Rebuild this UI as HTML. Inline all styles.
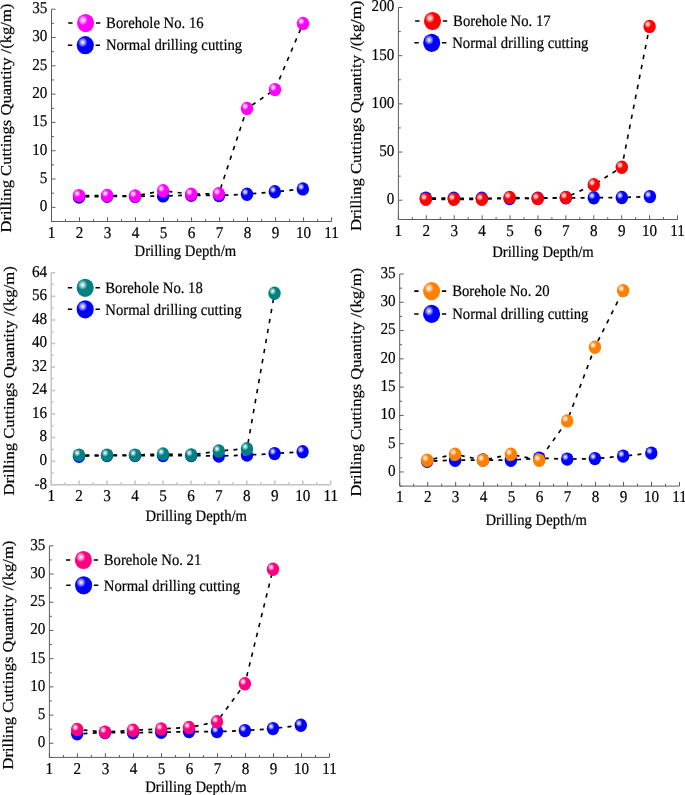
<!DOCTYPE html>
<html><head><meta charset="utf-8"><style>
html,body{margin:0;padding:0;background:#fff;}
svg{display:block;will-change:transform;}
text{font-family:"Liberation Serif", serif;text-rendering:geometricPrecision;stroke:#000;stroke-width:0.2px;}
</style></head><body>
<svg width="685" height="795" viewBox="0 0 685 795">
<defs><radialGradient id="gm" cx="0.35" cy="0.34" r="0.5" fx="0.35" fy="0.34"><stop offset="0" stop-color="#ffffff"/><stop offset="0.12" stop-color="#ffd1ff"/><stop offset="0.3" stop-color="#ff85ff"/><stop offset="0.45" stop-color="#ff38ff"/><stop offset="0.56" stop-color="#ff00ff"/><stop offset="1" stop-color="#ff00ff"/></radialGradient><radialGradient id="gr" cx="0.35" cy="0.34" r="0.5" fx="0.35" fy="0.34"><stop offset="0" stop-color="#ffffff"/><stop offset="0.12" stop-color="#ffd1d1"/><stop offset="0.3" stop-color="#ff8585"/><stop offset="0.45" stop-color="#ff3838"/><stop offset="0.56" stop-color="#ff0000"/><stop offset="1" stop-color="#ff0000"/></radialGradient><radialGradient id="gt" cx="0.35" cy="0.34" r="0.5" fx="0.35" fy="0.34"><stop offset="0" stop-color="#ffffff"/><stop offset="0.12" stop-color="#d1e8e8"/><stop offset="0.3" stop-color="#85c2c2"/><stop offset="0.45" stop-color="#389c9c"/><stop offset="0.56" stop-color="#008080"/><stop offset="1" stop-color="#008080"/></radialGradient><radialGradient id="go" cx="0.35" cy="0.34" r="0.5" fx="0.35" fy="0.34"><stop offset="0" stop-color="#ffffff"/><stop offset="0.12" stop-color="#ffe8d1"/><stop offset="0.3" stop-color="#ffc285"/><stop offset="0.45" stop-color="#ff9c38"/><stop offset="0.56" stop-color="#ff8000"/><stop offset="1" stop-color="#ff8000"/></radialGradient><radialGradient id="gp" cx="0.35" cy="0.34" r="0.5" fx="0.35" fy="0.34"><stop offset="0" stop-color="#ffffff"/><stop offset="0.12" stop-color="#ffd1e8"/><stop offset="0.3" stop-color="#ff85c2"/><stop offset="0.45" stop-color="#ff389c"/><stop offset="0.56" stop-color="#ff0080"/><stop offset="1" stop-color="#ff0080"/></radialGradient><radialGradient id="gb" cx="0.35" cy="0.34" r="0.5" fx="0.35" fy="0.34"><stop offset="0" stop-color="#ffffff"/><stop offset="0.12" stop-color="#d1d1ff"/><stop offset="0.3" stop-color="#8585ff"/><stop offset="0.45" stop-color="#3838ff"/><stop offset="0.56" stop-color="#0000ff"/><stop offset="1" stop-color="#0000ff"/></radialGradient></defs>
<rect width="685" height="795" fill="#fff"/>
<path d="M51.5,9.2 V221.5 H331.6" fill="none" stroke="#5c5c5c" stroke-width="1"/>
<path d="M51.50,221.5 v-4.2 M65.50,221.5 v-2.4 M79.51,221.5 v-4.2 M93.52,221.5 v-2.4 M107.52,221.5 v-4.2 M121.53,221.5 v-2.4 M135.53,221.5 v-4.2 M149.54,221.5 v-2.4 M163.54,221.5 v-4.2 M177.55,221.5 v-2.4 M191.55,221.5 v-4.2 M205.56,221.5 v-2.4 M219.56,221.5 v-4.2 M233.56,221.5 v-2.4 M247.57,221.5 v-4.2 M261.57,221.5 v-2.4 M275.58,221.5 v-4.2 M289.59,221.5 v-2.4 M303.59,221.5 v-4.2 M317.60,221.5 v-2.4 M331.60,221.5 v-4.2 M51.5,221.50 h2.4 M51.5,207.35 h4 M51.5,193.19 h2.4 M51.5,179.04 h4 M51.5,164.89 h2.4 M51.5,150.73 h4 M51.5,136.58 h2.4 M51.5,122.43 h4 M51.5,108.27 h2.4 M51.5,94.12 h4 M51.5,79.97 h2.4 M51.5,65.81 h4 M51.5,51.66 h2.4 M51.5,37.51 h4 M51.5,23.35 h2.4 M51.5,9.20 h4" fill="none" stroke="#5c5c5c" stroke-width="1"/>
<text transform="translate(51.50,237.80) scale(0.918,1)" text-anchor="middle" font-size="16.5" fill="#000">1</text>
<text transform="translate(79.51,237.80) scale(0.918,1)" text-anchor="middle" font-size="16.5" fill="#000">2</text>
<text transform="translate(107.52,237.80) scale(0.918,1)" text-anchor="middle" font-size="16.5" fill="#000">3</text>
<text transform="translate(135.53,237.80) scale(0.918,1)" text-anchor="middle" font-size="16.5" fill="#000">4</text>
<text transform="translate(163.54,237.80) scale(0.918,1)" text-anchor="middle" font-size="16.5" fill="#000">5</text>
<text transform="translate(191.55,237.80) scale(0.918,1)" text-anchor="middle" font-size="16.5" fill="#000">6</text>
<text transform="translate(219.56,237.80) scale(0.918,1)" text-anchor="middle" font-size="16.5" fill="#000">7</text>
<text transform="translate(247.57,237.80) scale(0.918,1)" text-anchor="middle" font-size="16.5" fill="#000">8</text>
<text transform="translate(275.58,237.80) scale(0.918,1)" text-anchor="middle" font-size="16.5" fill="#000">9</text>
<text transform="translate(303.59,237.80) scale(0.918,1)" text-anchor="middle" font-size="16.5" fill="#000">10</text>
<text transform="translate(331.60,237.80) scale(0.918,1)" text-anchor="middle" font-size="16.5" fill="#000">11</text>
<text transform="translate(47.40,211.20) scale(0.918,1)" text-anchor="end" font-size="16.5" fill="#000">0</text>
<text transform="translate(47.40,182.89) scale(0.918,1)" text-anchor="end" font-size="16.5" fill="#000">5</text>
<text transform="translate(47.40,154.58) scale(0.918,1)" text-anchor="end" font-size="16.5" fill="#000">10</text>
<text transform="translate(47.40,126.28) scale(0.918,1)" text-anchor="end" font-size="16.5" fill="#000">15</text>
<text transform="translate(47.40,97.97) scale(0.918,1)" text-anchor="end" font-size="16.5" fill="#000">20</text>
<text transform="translate(47.40,69.66) scale(0.918,1)" text-anchor="end" font-size="16.5" fill="#000">25</text>
<text transform="translate(47.40,41.36) scale(0.918,1)" text-anchor="end" font-size="16.5" fill="#000">30</text>
<text transform="translate(47.40,13.05) scale(0.918,1)" text-anchor="end" font-size="16.5" fill="#000">35</text>
<text transform="translate(134.60,255.80) scale(0.918,1)" text-anchor="start" font-size="16" fill="#000">Drilling Depth/m</text>
<text transform="translate(10.90,232.50) scale(0.95,1) rotate(-90)" font-size="16" textLength="228.8" lengthAdjust="spacingAndGlyphs">Drilling Cuttings Quantity /(kg/m)</text>
<path transform="scale(0.91,1)" d="M86.81,197.00 L117.69,196.30 L148.46,196.40 L179.23,195.90 L210.11,195.20 L240.66,195.50 L271.43,194.20 L301.98,191.80 L332.80,188.90" fill="none" stroke="#000" stroke-width="1.75" stroke-dasharray="4.4,5.8" stroke-dashoffset="3.3"/>
<path transform="scale(0.91,1)" d="M86.81,195.60 L117.69,195.50 L148.46,196.00 L179.23,190.70 L210.11,194.20 L240.44,193.80 L271.43,108.40 L302.20,89.60 L332.97,23.40" fill="none" stroke="#000" stroke-width="1.75" stroke-dasharray="4.4,5.8" stroke-dashoffset="3.3"/>
<ellipse cx="79.00" cy="197.00" rx="6.2" ry="6.7" fill="url(#gb)"/>
<ellipse cx="107.10" cy="196.30" rx="6.2" ry="6.7" fill="url(#gb)"/>
<ellipse cx="135.10" cy="196.40" rx="6.2" ry="6.7" fill="url(#gb)"/>
<ellipse cx="163.10" cy="195.90" rx="6.2" ry="6.7" fill="url(#gb)"/>
<ellipse cx="191.20" cy="195.20" rx="6.2" ry="6.7" fill="url(#gb)"/>
<ellipse cx="219.00" cy="195.50" rx="6.2" ry="6.7" fill="url(#gb)"/>
<ellipse cx="247.00" cy="194.20" rx="6.2" ry="6.7" fill="url(#gb)"/>
<ellipse cx="274.80" cy="191.80" rx="6.2" ry="6.7" fill="url(#gb)"/>
<ellipse cx="302.85" cy="188.90" rx="6.2" ry="6.7" fill="url(#gb)"/>
<ellipse cx="79.00" cy="195.60" rx="6.2" ry="6.7" fill="url(#gm)"/>
<ellipse cx="107.10" cy="195.50" rx="6.2" ry="6.7" fill="url(#gm)"/>
<ellipse cx="135.10" cy="196.00" rx="6.2" ry="6.7" fill="url(#gm)"/>
<ellipse cx="163.10" cy="190.70" rx="6.2" ry="6.7" fill="url(#gm)"/>
<ellipse cx="191.20" cy="194.20" rx="6.2" ry="6.7" fill="url(#gm)"/>
<ellipse cx="218.80" cy="193.80" rx="6.2" ry="6.7" fill="url(#gm)"/>
<ellipse cx="247.00" cy="108.40" rx="6.2" ry="6.7" fill="url(#gm)"/>
<ellipse cx="275.00" cy="89.60" rx="6.2" ry="6.7" fill="url(#gm)"/>
<ellipse cx="303.00" cy="23.40" rx="6.2" ry="6.7" fill="url(#gm)"/>
<path d="M68.20,23.05 h4.4 M95.90,23.05 h4.4" stroke="#000" stroke-width="1.55"/>
<ellipse cx="85.60" cy="23.05" rx="8.55" ry="9.1" fill="url(#gm)"/>
<text transform="translate(106.10,28.20) scale(0.918,1)" text-anchor="start" font-size="16" fill="#000">Borehole No. 16</text>
<path d="M67.90,45.20 h4.4 M95.60,45.20 h4.4" stroke="#000" stroke-width="1.55"/>
<ellipse cx="85.30" cy="45.20" rx="8.55" ry="9.1" fill="url(#gb)"/>
<text transform="translate(105.90,50.40) scale(0.918,1)" text-anchor="start" font-size="16" fill="#000">Normal drilling cutting</text>
<path d="M398.4,7.5 V219.5 H677.5" fill="none" stroke="#5c5c5c" stroke-width="1"/>
<path d="M398.40,219.5 v-4.2 M412.35,219.5 v-2.4 M426.31,219.5 v-4.2 M440.26,219.5 v-2.4 M454.22,219.5 v-4.2 M468.17,219.5 v-2.4 M482.13,219.5 v-4.2 M496.08,219.5 v-2.4 M510.04,219.5 v-4.2 M524.00,219.5 v-2.4 M537.95,219.5 v-4.2 M551.90,219.5 v-2.4 M565.86,219.5 v-4.2 M579.82,219.5 v-2.4 M593.77,219.5 v-4.2 M607.72,219.5 v-2.4 M621.68,219.5 v-4.2 M635.63,219.5 v-2.4 M649.59,219.5 v-4.2 M663.55,219.5 v-2.4 M677.50,219.5 v-4.2 M398.4,200.23 h4 M398.4,176.14 h2.4 M398.4,152.05 h4 M398.4,127.95 h2.4 M398.4,103.86 h4 M398.4,79.77 h2.4 M398.4,55.68 h4 M398.4,31.59 h2.4 M398.4,7.50 h4" fill="none" stroke="#5c5c5c" stroke-width="1"/>
<text transform="translate(398.40,235.80) scale(0.918,1)" text-anchor="middle" font-size="16.5" fill="#000">1</text>
<text transform="translate(426.31,235.80) scale(0.918,1)" text-anchor="middle" font-size="16.5" fill="#000">2</text>
<text transform="translate(454.22,235.80) scale(0.918,1)" text-anchor="middle" font-size="16.5" fill="#000">3</text>
<text transform="translate(482.13,235.80) scale(0.918,1)" text-anchor="middle" font-size="16.5" fill="#000">4</text>
<text transform="translate(510.04,235.80) scale(0.918,1)" text-anchor="middle" font-size="16.5" fill="#000">5</text>
<text transform="translate(537.95,235.80) scale(0.918,1)" text-anchor="middle" font-size="16.5" fill="#000">6</text>
<text transform="translate(565.86,235.80) scale(0.918,1)" text-anchor="middle" font-size="16.5" fill="#000">7</text>
<text transform="translate(593.77,235.80) scale(0.918,1)" text-anchor="middle" font-size="16.5" fill="#000">8</text>
<text transform="translate(621.68,235.80) scale(0.918,1)" text-anchor="middle" font-size="16.5" fill="#000">9</text>
<text transform="translate(649.59,235.80) scale(0.918,1)" text-anchor="middle" font-size="16.5" fill="#000">10</text>
<text transform="translate(677.50,235.80) scale(0.918,1)" text-anchor="middle" font-size="16.5" fill="#000">11</text>
<text transform="translate(394.30,204.08) scale(0.918,1)" text-anchor="end" font-size="16.5" fill="#000">0</text>
<text transform="translate(394.30,155.90) scale(0.918,1)" text-anchor="end" font-size="16.5" fill="#000">50</text>
<text transform="translate(394.30,107.71) scale(0.918,1)" text-anchor="end" font-size="16.5" fill="#000">100</text>
<text transform="translate(394.30,59.53) scale(0.918,1)" text-anchor="end" font-size="16.5" fill="#000">150</text>
<text transform="translate(394.30,11.35) scale(0.918,1)" text-anchor="end" font-size="16.5" fill="#000">200</text>
<text transform="translate(492.20,256.50) scale(0.918,1)" text-anchor="start" font-size="16" fill="#000">Drilling Depth/m</text>
<text transform="translate(360.80,231.00) scale(0.95,1) rotate(-90)" font-size="16" textLength="230.20000000000002" lengthAdjust="spacingAndGlyphs">Drilling Cuttings Quantity /(kg/m)</text>
<path transform="scale(0.91,1)" d="M467.91,198.10 L498.68,198.30 L529.45,198.30 L560.00,198.60 L590.88,198.20 L621.76,197.80 L652.53,197.80 L683.30,197.50 L714.18,196.60" fill="none" stroke="#000" stroke-width="1.75" stroke-dasharray="4.4,5.8" stroke-dashoffset="3.3"/>
<path transform="scale(0.91,1)" d="M467.91,199.20 L498.68,199.30 L529.45,199.30 L560.00,197.50 L590.88,198.60 L621.76,197.50 L652.53,184.70 L683.30,167.20 L713.85,26.40" fill="none" stroke="#000" stroke-width="1.75" stroke-dasharray="4.4,5.8" stroke-dashoffset="3.3"/>
<ellipse cx="425.80" cy="198.10" rx="6.2" ry="6.7" fill="url(#gb)"/>
<ellipse cx="453.80" cy="198.30" rx="6.2" ry="6.7" fill="url(#gb)"/>
<ellipse cx="481.80" cy="198.30" rx="6.2" ry="6.7" fill="url(#gb)"/>
<ellipse cx="509.60" cy="198.60" rx="6.2" ry="6.7" fill="url(#gb)"/>
<ellipse cx="537.70" cy="198.20" rx="6.2" ry="6.7" fill="url(#gb)"/>
<ellipse cx="565.80" cy="197.80" rx="6.2" ry="6.7" fill="url(#gb)"/>
<ellipse cx="593.80" cy="197.80" rx="6.2" ry="6.7" fill="url(#gb)"/>
<ellipse cx="621.80" cy="197.50" rx="6.2" ry="6.7" fill="url(#gb)"/>
<ellipse cx="649.90" cy="196.60" rx="6.2" ry="6.7" fill="url(#gb)"/>
<ellipse cx="425.80" cy="199.20" rx="6.2" ry="6.7" fill="url(#gr)"/>
<ellipse cx="453.80" cy="199.30" rx="6.2" ry="6.7" fill="url(#gr)"/>
<ellipse cx="481.80" cy="199.30" rx="6.2" ry="6.7" fill="url(#gr)"/>
<ellipse cx="509.60" cy="197.50" rx="6.2" ry="6.7" fill="url(#gr)"/>
<ellipse cx="537.70" cy="198.60" rx="6.2" ry="6.7" fill="url(#gr)"/>
<ellipse cx="565.80" cy="197.50" rx="6.2" ry="6.7" fill="url(#gr)"/>
<ellipse cx="593.80" cy="184.70" rx="6.2" ry="6.7" fill="url(#gr)"/>
<ellipse cx="621.80" cy="167.20" rx="6.2" ry="6.7" fill="url(#gr)"/>
<ellipse cx="649.60" cy="26.40" rx="6.2" ry="6.7" fill="url(#gr)"/>
<path d="M415.10,21.00 h4.4 M442.80,21.00 h4.4" stroke="#000" stroke-width="1.55"/>
<ellipse cx="432.50" cy="21.00" rx="8.55" ry="9.1" fill="url(#gr)"/>
<text transform="translate(453.10,26.30) scale(0.918,1)" text-anchor="start" font-size="16" fill="#000">Borehole No. 17</text>
<path d="M414.30,42.80 h4.4 M442.00,42.80 h4.4" stroke="#000" stroke-width="1.55"/>
<ellipse cx="431.70" cy="42.80" rx="8.55" ry="9.1" fill="url(#gb)"/>
<text transform="translate(452.20,47.90) scale(0.918,1)" text-anchor="start" font-size="16" fill="#000">Normal drilling cutting</text>
<path d="M51.2,272.8 V484.7 H330.7" fill="none" stroke="#c4c4c4" stroke-width="1.5"/>
<path d="M51.20,484.7 v-4.2 M65.17,484.7 v-2.4 M79.15,484.7 v-4.2 M93.12,484.7 v-2.4 M107.10,484.7 v-4.2 M121.08,484.7 v-2.4 M135.05,484.7 v-4.2 M149.03,484.7 v-2.4 M163.00,484.7 v-4.2 M176.98,484.7 v-2.4 M190.95,484.7 v-4.2 M204.93,484.7 v-2.4 M218.90,484.7 v-4.2 M232.88,484.7 v-2.4 M246.85,484.7 v-4.2 M260.82,484.7 v-2.4 M274.80,484.7 v-4.2 M288.77,484.7 v-2.4 M302.75,484.7 v-4.2 M316.72,484.7 v-2.4 M330.70,484.7 v-4.2 M51.2,484.70 h4 M51.2,472.93 h2.4 M51.2,461.16 h4 M51.2,449.38 h2.4 M51.2,437.61 h4 M51.2,425.84 h2.4 M51.2,414.07 h4 M51.2,402.29 h2.4 M51.2,390.52 h4 M51.2,378.75 h2.4 M51.2,366.98 h4 M51.2,355.21 h2.4 M51.2,343.43 h4 M51.2,331.66 h2.4 M51.2,319.89 h4 M51.2,308.12 h2.4 M51.2,296.34 h4 M51.2,284.57 h2.4 M51.2,272.80 h4" fill="none" stroke="#c4c4c4" stroke-width="1.5"/>
<text transform="translate(51.20,501.00) scale(0.918,1)" text-anchor="middle" font-size="16.5" fill="#000">1</text>
<text transform="translate(79.15,501.00) scale(0.918,1)" text-anchor="middle" font-size="16.5" fill="#000">2</text>
<text transform="translate(107.10,501.00) scale(0.918,1)" text-anchor="middle" font-size="16.5" fill="#000">3</text>
<text transform="translate(135.05,501.00) scale(0.918,1)" text-anchor="middle" font-size="16.5" fill="#000">4</text>
<text transform="translate(163.00,501.00) scale(0.918,1)" text-anchor="middle" font-size="16.5" fill="#000">5</text>
<text transform="translate(190.95,501.00) scale(0.918,1)" text-anchor="middle" font-size="16.5" fill="#000">6</text>
<text transform="translate(218.90,501.00) scale(0.918,1)" text-anchor="middle" font-size="16.5" fill="#000">7</text>
<text transform="translate(246.85,501.00) scale(0.918,1)" text-anchor="middle" font-size="16.5" fill="#000">8</text>
<text transform="translate(274.80,501.00) scale(0.918,1)" text-anchor="middle" font-size="16.5" fill="#000">9</text>
<text transform="translate(302.75,501.00) scale(0.918,1)" text-anchor="middle" font-size="16.5" fill="#000">10</text>
<text transform="translate(330.70,501.00) scale(0.918,1)" text-anchor="middle" font-size="16.5" fill="#000">11</text>
<text transform="translate(47.10,488.55) scale(0.918,1)" text-anchor="end" font-size="16.5" fill="#000">-8</text>
<text transform="translate(47.10,465.01) scale(0.918,1)" text-anchor="end" font-size="16.5" fill="#000">0</text>
<text transform="translate(47.10,441.46) scale(0.918,1)" text-anchor="end" font-size="16.5" fill="#000">8</text>
<text transform="translate(47.10,417.92) scale(0.918,1)" text-anchor="end" font-size="16.5" fill="#000">16</text>
<text transform="translate(47.10,394.37) scale(0.918,1)" text-anchor="end" font-size="16.5" fill="#000">24</text>
<text transform="translate(47.10,370.83) scale(0.918,1)" text-anchor="end" font-size="16.5" fill="#000">32</text>
<text transform="translate(47.10,347.28) scale(0.918,1)" text-anchor="end" font-size="16.5" fill="#000">40</text>
<text transform="translate(47.10,323.74) scale(0.918,1)" text-anchor="end" font-size="16.5" fill="#000">48</text>
<text transform="translate(47.10,300.19) scale(0.918,1)" text-anchor="end" font-size="16.5" fill="#000">56</text>
<text transform="translate(47.10,276.65) scale(0.918,1)" text-anchor="end" font-size="16.5" fill="#000">64</text>
<text transform="translate(145.40,520.70) scale(0.918,1)" text-anchor="start" font-size="16" fill="#000">Drilling Depth/m</text>
<text transform="translate(13.60,495.40) scale(0.95,1) rotate(-90)" font-size="16" textLength="229.1" lengthAdjust="spacingAndGlyphs">Drilling Cuttings Quantity /(kg/m)</text>
<path transform="scale(0.91,1)" d="M86.81,456.20 L117.58,455.60 L148.35,455.60 L179.12,455.50 L210.11,455.50 L240.44,456.10 L271.43,455.00 L301.76,453.60 L332.53,451.80" fill="none" stroke="#000" stroke-width="1.75" stroke-dasharray="4.4,5.8" stroke-dashoffset="3.3"/>
<path transform="scale(0.91,1)" d="M86.81,455.10 L117.58,455.10 L148.35,455.10 L179.12,453.90 L210.11,455.00 L240.44,451.00 L271.43,448.70 L301.65,293.30" fill="none" stroke="#000" stroke-width="1.75" stroke-dasharray="4.4,5.8" stroke-dashoffset="3.3"/>
<ellipse cx="79.00" cy="456.20" rx="6.2" ry="6.7" fill="url(#gb)"/>
<ellipse cx="107.00" cy="455.60" rx="6.2" ry="6.7" fill="url(#gb)"/>
<ellipse cx="135.00" cy="455.60" rx="6.2" ry="6.7" fill="url(#gb)"/>
<ellipse cx="163.00" cy="455.50" rx="6.2" ry="6.7" fill="url(#gb)"/>
<ellipse cx="191.20" cy="455.50" rx="6.2" ry="6.7" fill="url(#gb)"/>
<ellipse cx="218.80" cy="456.10" rx="6.2" ry="6.7" fill="url(#gb)"/>
<ellipse cx="247.00" cy="455.00" rx="6.2" ry="6.7" fill="url(#gb)"/>
<ellipse cx="274.60" cy="453.60" rx="6.2" ry="6.7" fill="url(#gb)"/>
<ellipse cx="302.60" cy="451.80" rx="6.2" ry="6.7" fill="url(#gb)"/>
<ellipse cx="79.00" cy="455.10" rx="6.2" ry="6.7" fill="url(#gt)"/>
<ellipse cx="107.00" cy="455.10" rx="6.2" ry="6.7" fill="url(#gt)"/>
<ellipse cx="135.00" cy="455.10" rx="6.2" ry="6.7" fill="url(#gt)"/>
<ellipse cx="163.00" cy="453.90" rx="6.2" ry="6.7" fill="url(#gt)"/>
<ellipse cx="191.20" cy="455.00" rx="6.2" ry="6.7" fill="url(#gt)"/>
<ellipse cx="218.80" cy="451.00" rx="6.2" ry="6.7" fill="url(#gt)"/>
<ellipse cx="247.00" cy="448.70" rx="6.2" ry="6.7" fill="url(#gt)"/>
<ellipse cx="274.50" cy="293.30" rx="6.2" ry="6.7" fill="url(#gt)"/>
<path d="M67.80,287.80 h4.4 M95.50,287.80 h4.4" stroke="#000" stroke-width="1.55"/>
<ellipse cx="85.20" cy="287.80" rx="8.55" ry="9.1" fill="url(#gt)"/>
<text transform="translate(105.30,293.20) scale(0.918,1)" text-anchor="start" font-size="16" fill="#000">Borehole No. 18</text>
<path d="M67.80,309.30 h4.4 M95.50,309.30 h4.4" stroke="#000" stroke-width="1.55"/>
<ellipse cx="85.20" cy="309.30" rx="8.55" ry="9.1" fill="url(#gb)"/>
<text transform="translate(105.30,314.70) scale(0.918,1)" text-anchor="start" font-size="16" fill="#000">Normal drilling cutting</text>
<path d="M399.7,274.0 V486.1 H679.5" fill="none" stroke="#5c5c5c" stroke-width="1"/>
<path d="M399.70,486.1 v-4.2 M413.69,486.1 v-2.4 M427.68,486.1 v-4.2 M441.67,486.1 v-2.4 M455.66,486.1 v-4.2 M469.65,486.1 v-2.4 M483.64,486.1 v-4.2 M497.63,486.1 v-2.4 M511.62,486.1 v-4.2 M525.61,486.1 v-2.4 M539.60,486.1 v-4.2 M553.59,486.1 v-2.4 M567.58,486.1 v-4.2 M581.57,486.1 v-2.4 M595.56,486.1 v-4.2 M609.55,486.1 v-2.4 M623.54,486.1 v-4.2 M637.53,486.1 v-2.4 M651.52,486.1 v-4.2 M665.51,486.1 v-2.4 M679.50,486.1 v-4.2 M399.7,486.10 h2.4 M399.7,471.96 h4 M399.7,457.82 h2.4 M399.7,443.68 h4 M399.7,429.54 h2.4 M399.7,415.40 h4 M399.7,401.26 h2.4 M399.7,387.12 h4 M399.7,372.98 h2.4 M399.7,358.84 h4 M399.7,344.70 h2.4 M399.7,330.56 h4 M399.7,316.42 h2.4 M399.7,302.28 h4 M399.7,288.14 h2.4 M399.7,274.00 h4" fill="none" stroke="#5c5c5c" stroke-width="1"/>
<text transform="translate(399.70,502.40) scale(0.918,1)" text-anchor="middle" font-size="16.5" fill="#000">1</text>
<text transform="translate(427.68,502.40) scale(0.918,1)" text-anchor="middle" font-size="16.5" fill="#000">2</text>
<text transform="translate(455.66,502.40) scale(0.918,1)" text-anchor="middle" font-size="16.5" fill="#000">3</text>
<text transform="translate(483.64,502.40) scale(0.918,1)" text-anchor="middle" font-size="16.5" fill="#000">4</text>
<text transform="translate(511.62,502.40) scale(0.918,1)" text-anchor="middle" font-size="16.5" fill="#000">5</text>
<text transform="translate(539.60,502.40) scale(0.918,1)" text-anchor="middle" font-size="16.5" fill="#000">6</text>
<text transform="translate(567.58,502.40) scale(0.918,1)" text-anchor="middle" font-size="16.5" fill="#000">7</text>
<text transform="translate(595.56,502.40) scale(0.918,1)" text-anchor="middle" font-size="16.5" fill="#000">8</text>
<text transform="translate(623.54,502.40) scale(0.918,1)" text-anchor="middle" font-size="16.5" fill="#000">9</text>
<text transform="translate(651.52,502.40) scale(0.918,1)" text-anchor="middle" font-size="16.5" fill="#000">10</text>
<text transform="translate(679.50,502.40) scale(0.918,1)" text-anchor="middle" font-size="16.5" fill="#000">11</text>
<text transform="translate(395.60,475.81) scale(0.918,1)" text-anchor="end" font-size="16.5" fill="#000">0</text>
<text transform="translate(395.60,447.53) scale(0.918,1)" text-anchor="end" font-size="16.5" fill="#000">5</text>
<text transform="translate(395.60,419.25) scale(0.918,1)" text-anchor="end" font-size="16.5" fill="#000">10</text>
<text transform="translate(395.60,390.97) scale(0.918,1)" text-anchor="end" font-size="16.5" fill="#000">15</text>
<text transform="translate(395.60,362.69) scale(0.918,1)" text-anchor="end" font-size="16.5" fill="#000">20</text>
<text transform="translate(395.60,334.41) scale(0.918,1)" text-anchor="end" font-size="16.5" fill="#000">25</text>
<text transform="translate(395.60,306.13) scale(0.918,1)" text-anchor="end" font-size="16.5" fill="#000">30</text>
<text transform="translate(395.60,277.85) scale(0.918,1)" text-anchor="end" font-size="16.5" fill="#000">35</text>
<text transform="translate(485.40,525.10) scale(0.918,1)" text-anchor="start" font-size="16" fill="#000">Drilling Depth/m</text>
<text transform="translate(361.00,496.50) scale(0.95,1) rotate(-90)" font-size="16" textLength="228.6" lengthAdjust="spacingAndGlyphs">Drilling Cuttings Quantity /(kg/m)</text>
<path transform="scale(0.91,1)" d="M469.45,461.20 L500.11,460.20 L530.66,460.00 L561.43,460.20 L592.53,458.10 L623.30,459.10 L653.74,458.60 L684.73,456.10 L715.71,453.10" fill="none" stroke="#000" stroke-width="1.75" stroke-dasharray="4.4,5.8" stroke-dashoffset="3.3"/>
<path transform="scale(0.91,1)" d="M469.45,460.20 L500.11,454.30 L530.66,460.20 L561.43,454.30 L592.53,460.20 L623.30,420.90 L653.74,347.20 L684.73,290.60" fill="none" stroke="#000" stroke-width="1.75" stroke-dasharray="4.4,5.8" stroke-dashoffset="3.3"/>
<ellipse cx="427.20" cy="461.20" rx="6.2" ry="6.7" fill="url(#gb)"/>
<ellipse cx="455.10" cy="460.20" rx="6.2" ry="6.7" fill="url(#gb)"/>
<ellipse cx="482.90" cy="460.00" rx="6.2" ry="6.7" fill="url(#gb)"/>
<ellipse cx="510.90" cy="460.20" rx="6.2" ry="6.7" fill="url(#gb)"/>
<ellipse cx="539.20" cy="458.10" rx="6.2" ry="6.7" fill="url(#gb)"/>
<ellipse cx="567.20" cy="459.10" rx="6.2" ry="6.7" fill="url(#gb)"/>
<ellipse cx="594.90" cy="458.60" rx="6.2" ry="6.7" fill="url(#gb)"/>
<ellipse cx="623.10" cy="456.10" rx="6.2" ry="6.7" fill="url(#gb)"/>
<ellipse cx="651.30" cy="453.10" rx="6.2" ry="6.7" fill="url(#gb)"/>
<ellipse cx="427.20" cy="460.20" rx="6.2" ry="6.7" fill="url(#go)"/>
<ellipse cx="455.10" cy="454.30" rx="6.2" ry="6.7" fill="url(#go)"/>
<ellipse cx="482.90" cy="460.20" rx="6.2" ry="6.7" fill="url(#go)"/>
<ellipse cx="510.90" cy="454.30" rx="6.2" ry="6.7" fill="url(#go)"/>
<ellipse cx="539.20" cy="460.20" rx="6.2" ry="6.7" fill="url(#go)"/>
<ellipse cx="567.20" cy="420.90" rx="6.2" ry="6.7" fill="url(#go)"/>
<ellipse cx="594.90" cy="347.20" rx="6.2" ry="6.7" fill="url(#go)"/>
<ellipse cx="623.10" cy="290.60" rx="6.2" ry="6.7" fill="url(#go)"/>
<path d="M414.20,291.10 h4.4 M441.90,291.10 h4.4" stroke="#000" stroke-width="1.55"/>
<ellipse cx="431.60" cy="291.10" rx="8.55" ry="9.1" fill="url(#go)"/>
<text transform="translate(452.20,296.20) scale(0.918,1)" text-anchor="start" font-size="16" fill="#000">Borehole No. 20</text>
<path d="M414.20,313.90 h4.4 M441.90,313.90 h4.4" stroke="#000" stroke-width="1.55"/>
<ellipse cx="431.60" cy="313.90" rx="8.55" ry="9.1" fill="url(#gb)"/>
<text transform="translate(452.20,319.00) scale(0.918,1)" text-anchor="start" font-size="16" fill="#000">Normal drilling cutting</text>
<path d="M49.4,545.8 V757.4 H329.5" fill="none" stroke="#5c5c5c" stroke-width="1"/>
<path d="M49.40,757.4 v-4.2 M63.41,757.4 v-2.4 M77.41,757.4 v-4.2 M91.41,757.4 v-2.4 M105.42,757.4 v-4.2 M119.43,757.4 v-2.4 M133.43,757.4 v-4.2 M147.44,757.4 v-2.4 M161.44,757.4 v-4.2 M175.44,757.4 v-2.4 M189.45,757.4 v-4.2 M203.46,757.4 v-2.4 M217.46,757.4 v-4.2 M231.47,757.4 v-2.4 M245.47,757.4 v-4.2 M259.47,757.4 v-2.4 M273.48,757.4 v-4.2 M287.49,757.4 v-2.4 M301.49,757.4 v-4.2 M315.50,757.4 v-2.4 M329.50,757.4 v-4.2 M49.4,757.40 h2.4 M49.4,743.29 h4 M49.4,729.19 h2.4 M49.4,715.08 h4 M49.4,700.97 h2.4 M49.4,686.87 h4 M49.4,672.76 h2.4 M49.4,658.65 h4 M49.4,644.55 h2.4 M49.4,630.44 h4 M49.4,616.33 h2.4 M49.4,602.23 h4 M49.4,588.12 h2.4 M49.4,574.01 h4 M49.4,559.91 h2.4 M49.4,545.80 h4" fill="none" stroke="#5c5c5c" stroke-width="1"/>
<text transform="translate(49.40,773.70) scale(0.918,1)" text-anchor="middle" font-size="16.5" fill="#000">1</text>
<text transform="translate(77.41,773.70) scale(0.918,1)" text-anchor="middle" font-size="16.5" fill="#000">2</text>
<text transform="translate(105.42,773.70) scale(0.918,1)" text-anchor="middle" font-size="16.5" fill="#000">3</text>
<text transform="translate(133.43,773.70) scale(0.918,1)" text-anchor="middle" font-size="16.5" fill="#000">4</text>
<text transform="translate(161.44,773.70) scale(0.918,1)" text-anchor="middle" font-size="16.5" fill="#000">5</text>
<text transform="translate(189.45,773.70) scale(0.918,1)" text-anchor="middle" font-size="16.5" fill="#000">6</text>
<text transform="translate(217.46,773.70) scale(0.918,1)" text-anchor="middle" font-size="16.5" fill="#000">7</text>
<text transform="translate(245.47,773.70) scale(0.918,1)" text-anchor="middle" font-size="16.5" fill="#000">8</text>
<text transform="translate(273.48,773.70) scale(0.918,1)" text-anchor="middle" font-size="16.5" fill="#000">9</text>
<text transform="translate(301.49,773.70) scale(0.918,1)" text-anchor="middle" font-size="16.5" fill="#000">10</text>
<text transform="translate(329.50,773.70) scale(0.918,1)" text-anchor="middle" font-size="16.5" fill="#000">11</text>
<text transform="translate(45.30,747.14) scale(0.918,1)" text-anchor="end" font-size="16.5" fill="#000">0</text>
<text transform="translate(45.30,718.93) scale(0.918,1)" text-anchor="end" font-size="16.5" fill="#000">5</text>
<text transform="translate(45.30,690.72) scale(0.918,1)" text-anchor="end" font-size="16.5" fill="#000">10</text>
<text transform="translate(45.30,662.50) scale(0.918,1)" text-anchor="end" font-size="16.5" fill="#000">15</text>
<text transform="translate(45.30,634.29) scale(0.918,1)" text-anchor="end" font-size="16.5" fill="#000">20</text>
<text transform="translate(45.30,606.08) scale(0.918,1)" text-anchor="end" font-size="16.5" fill="#000">25</text>
<text transform="translate(45.30,577.86) scale(0.918,1)" text-anchor="end" font-size="16.5" fill="#000">30</text>
<text transform="translate(45.30,549.65) scale(0.918,1)" text-anchor="end" font-size="16.5" fill="#000">35</text>
<text transform="translate(145.20,791.60) scale(0.918,1)" text-anchor="start" font-size="16" fill="#000">Drilling Depth/m</text>
<text transform="translate(12.70,769.50) scale(0.95,1) rotate(-90)" font-size="16" textLength="228.9" lengthAdjust="spacingAndGlyphs">Drilling Cuttings Quantity /(kg/m)</text>
<path transform="scale(0.91,1)" d="M84.84,733.80 L115.38,732.50 L146.15,732.70 L177.14,732.30 L207.69,731.60 L238.46,731.60 L269.12,730.60 L300.00,728.60 L330.55,725.30" fill="none" stroke="#000" stroke-width="1.75" stroke-dasharray="4.4,5.8" stroke-dashoffset="3.3"/>
<path transform="scale(0.91,1)" d="M84.84,729.50 L115.38,732.10 L146.15,730.20 L177.14,729.00 L207.69,727.50 L238.46,721.80 L269.12,683.80 L300.00,569.30" fill="none" stroke="#000" stroke-width="1.75" stroke-dasharray="4.4,5.8" stroke-dashoffset="3.3"/>
<ellipse cx="77.20" cy="733.80" rx="6.2" ry="6.7" fill="url(#gb)"/>
<ellipse cx="105.00" cy="732.50" rx="6.2" ry="6.7" fill="url(#gb)"/>
<ellipse cx="133.00" cy="732.70" rx="6.2" ry="6.7" fill="url(#gb)"/>
<ellipse cx="161.20" cy="732.30" rx="6.2" ry="6.7" fill="url(#gb)"/>
<ellipse cx="189.00" cy="731.60" rx="6.2" ry="6.7" fill="url(#gb)"/>
<ellipse cx="217.00" cy="731.60" rx="6.2" ry="6.7" fill="url(#gb)"/>
<ellipse cx="244.90" cy="730.60" rx="6.2" ry="6.7" fill="url(#gb)"/>
<ellipse cx="273.00" cy="728.60" rx="6.2" ry="6.7" fill="url(#gb)"/>
<ellipse cx="300.80" cy="725.30" rx="6.2" ry="6.7" fill="url(#gb)"/>
<ellipse cx="77.20" cy="729.50" rx="6.2" ry="6.7" fill="url(#gp)"/>
<ellipse cx="105.00" cy="732.10" rx="6.2" ry="6.7" fill="url(#gp)"/>
<ellipse cx="133.00" cy="730.20" rx="6.2" ry="6.7" fill="url(#gp)"/>
<ellipse cx="161.20" cy="729.00" rx="6.2" ry="6.7" fill="url(#gp)"/>
<ellipse cx="189.00" cy="727.50" rx="6.2" ry="6.7" fill="url(#gp)"/>
<ellipse cx="217.00" cy="721.80" rx="6.2" ry="6.7" fill="url(#gp)"/>
<ellipse cx="244.90" cy="683.80" rx="6.2" ry="6.7" fill="url(#gp)"/>
<ellipse cx="273.00" cy="569.30" rx="6.2" ry="6.7" fill="url(#gp)"/>
<path d="M66.00,560.00 h4.4 M93.70,560.00 h4.4" stroke="#000" stroke-width="1.55"/>
<ellipse cx="83.40" cy="560.00" rx="8.55" ry="9.1" fill="url(#gp)"/>
<text transform="translate(103.80,565.30) scale(0.918,1)" text-anchor="start" font-size="16" fill="#000">Borehole No. 21</text>
<path d="M66.20,585.30 h4.4 M93.90,585.30 h4.4" stroke="#000" stroke-width="1.55"/>
<ellipse cx="83.60" cy="585.30" rx="8.55" ry="9.1" fill="url(#gb)"/>
<text transform="translate(103.80,590.70) scale(0.918,1)" text-anchor="start" font-size="16" fill="#000">Normal drilling cutting</text>
</svg>
</body></html>
